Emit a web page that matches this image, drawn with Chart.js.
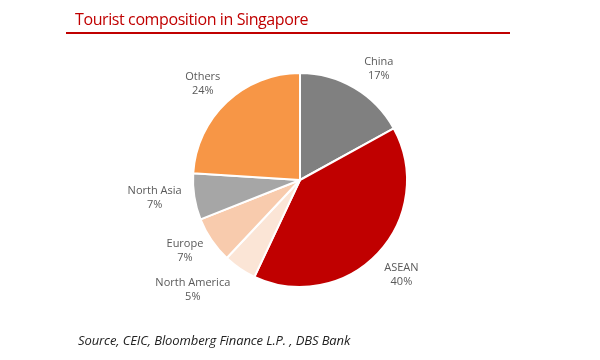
<!DOCTYPE html>
<html lang="en">
<head>
  <meta charset="UTF-8">
  <title>Tourist composition in Singapore</title>
  <style>
    body { margin: 0; background: #fff; }
    #wrap { position: relative; width: 600px; height: 360px; font-family: "Open Sans", sans-serif; }
    #title { position: absolute; left: 75px; top: 8px; color: #c00000; font-size: 16px; letter-spacing: -0.4px; }
    #rule { position: absolute; left: 66px; top: 32px; width: 444px; height: 2px; background: #c00000; }
    #source { position: absolute; left: 78px; top: 331px; font-size: 13px; font-style: italic; color: #222; letter-spacing: -0.1px; }
    #chart-box { position: absolute; left: 0; top: 0; width: 600px; height: 360px; }
  </style>
</head>
<body>
  <div id="wrap">
    <div id="chart-box"><canvas id="pie" width="600" height="360"></canvas></div>
    <div id="title">Tourist composition in Singapore</div>
    <div id="rule"></div>
    <div id="source">Source, CEIC, Bloomberg Finance L.P. , DBS Bank</div>
  </div>

  <script src="https://cdn.jsdelivr.net/npm/chart.js"></script>
  <script>
    const regions = ['China', 'ASEAN', 'North America', 'Europe', 'North Asia', 'Others'];
    const shares = [17, 40, 5, 7, 7, 24];
    const colours = ['#808080', '#c00000', '#fbe5d6', '#f8cbad', '#a6a6a6', '#f79646'];

    // draws "name / nn%" beside each slice
    const sliceLabels = {
      id: 'sliceLabels',
      afterDatasetsDraw(chart) {
        const ctx = chart.ctx;
        const arcs = chart.getDatasetMeta(0).data;
        // small hand nudges so labels sit where excel put them
        const nudge = [[8, 9], [0, 0], [-29, -5], [0, -7], [-8, -4], [-2, 5]];
        ctx.save();
        ctx.fillStyle = '#595959';
        ctx.font = '11px "Open Sans", sans-serif';
        ctx.textAlign = 'center';
        ctx.textBaseline = 'middle';
        arcs.forEach((arc, i) => {
          const mid = (arc.startAngle + arc.endAngle) / 2;
          const r = arc.outerRadius * 1.3;
          const x = arc.x + Math.cos(mid) * r + nudge[i][0];
          const y = arc.y + Math.sin(mid) * r + nudge[i][1];
          ctx.fillText(regions[i], x, y - 7);
          ctx.fillText(shares[i] + '%', x, y + 7);
        });
        ctx.restore();
      }
    };

    new Chart(document.getElementById('pie'), {
      type: 'pie',
      data: {
        labels: regions,
        datasets: [{
          data: shares,
          backgroundColor: colours,
          borderColor: '#ffffff',
          borderWidth: 2
        }]
      },
      options: {
        responsive: false,
        animation: false,
        layout: { padding: { left: 192, right: 192, top: 72, bottom: 72 } },
        plugins: {
          legend: { display: false },
          tooltip: { enabled: false }
        }
      },
      plugins: [sliceLabels]
    });
  </script>
</body>
</html>
